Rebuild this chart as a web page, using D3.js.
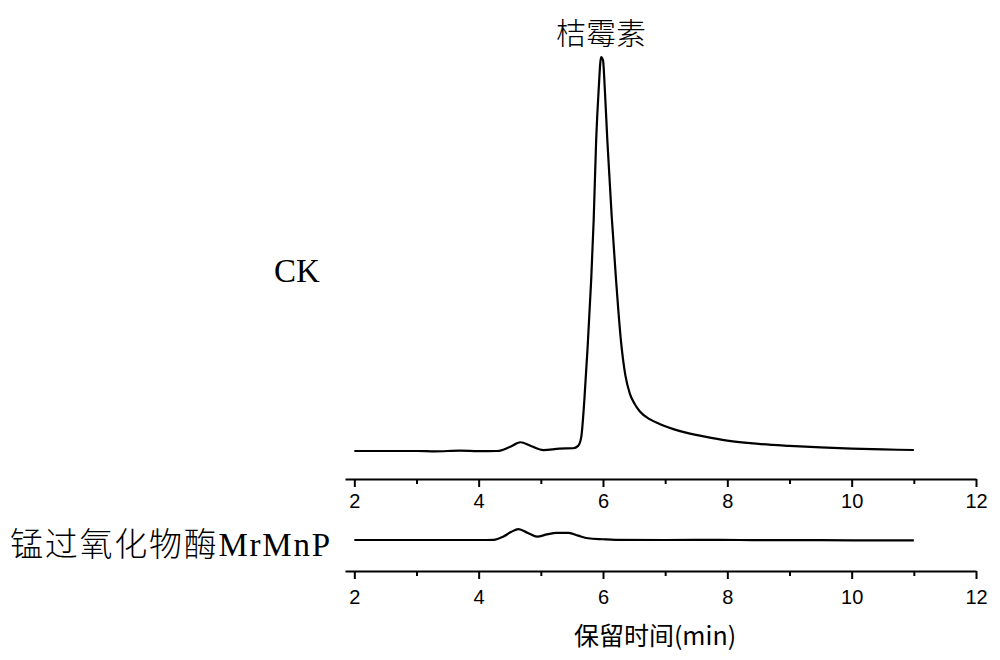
<!DOCTYPE html>
<html>
<head>
<meta charset="utf-8">
<script src="https://cdn.jsdelivr.net/npm/d3@7/dist/d3.min.js"></script>
<style>
  html, body { margin: 0; padding: 0; background: #fff; }
  svg { display: block; }
</style>
</head>
<body>
<div id="chart"></div>
<script>
// ---- data ----
const ckTime   = [2.0, 2.5, 3.0, 3.3, 3.7, 4.0, 4.3, 4.5, 4.67, 4.85, 5.04, 5.3, 5.52, 5.6, 5.65, 5.70, 5.75, 5.81, 5.85, 5.89, 5.93, 5.97, 6.00, 6.03, 6.07, 6.14, 6.21, 6.29, 6.36, 6.43, 6.51, 6.59, 6.75, 6.91, 7.24, 7.64, 8.0, 8.5, 9.0, 9.5, 10.0, 10.5, 11.0];
const ckSignal = [1.0, 1.0, 1.0, 0.9, 1.1, 0.95, 1.0, 2.0, 3.2, 2.2, 1.25, 1.6, 1.7, 2.3, 4.5, 13.8, 26.4, 44, 59, 79, 91.7, 100, 99.2, 91.7, 79, 60, 44, 28.5, 20.0, 15.5, 12.8, 11.0, 9.0, 7.8, 6.0, 4.6, 3.6, 2.8, 2.3, 1.9, 1.6, 1.4, 1.25];

const mnpTime   = [2.0, 3.0, 4.0, 4.24, 4.4, 4.52, 4.64, 4.8, 4.94, 5.1, 5.25, 5.45, 5.6, 5.76, 6.0, 6.2, 7.0, 7.9, 8.5, 9.5, 10.5, 11.0];
const mnpSignal = [1.0, 1.0, 1.0, 1.05, 1.9, 3.0, 3.76, 2.7, 1.85, 2.4, 2.8, 2.8, 2.1, 1.45, 1.2, 1.05, 1.0, 1.05, 0.95, 0.95, 0.9, 0.9];

const majorTicks = [2, 4, 6, 8, 10, 12];
const minorTicks = [3, 5, 7, 9, 11];
const peakLabel = "桔霉素";
const ckLabel = "CK";
const mnpLabel = "锰过氧化物酶MrMnP";
const xTitle = "保留时间(min)";

// ---- layout ----
const W = 1000, H = 660;
const svg = d3.select("#chart").append("svg").attr("width", W).attr("height", H);

const x = d3.scaleLinear().domain([1.85, 12]).range([345, 976]);
const yUpper = d3.scaleLinear().domain([0, 100]).range([455, 57]);
const yLower = d3.scaleLinear().domain([0, 100]).range([544, 146]);

const axisYUpper = 479;
const axisYLower = 571;

function drawAxis(yPos, pad) {
  const g = svg.append("g").attr("transform", `translate(0,${yPos})`);
  const major = d3.axisBottom(x).tickValues(majorTicks).tickSize(8).tickSizeOuter(0).tickPadding(pad)
    .tickFormat(d3.format("d"));
  g.call(major);
  g.select(".domain").attr("stroke", "#000").attr("stroke-width", 2);
  g.selectAll(".tick line").attr("stroke", "#000").attr("stroke-width", 2);
  g.selectAll(".tick text").attr("font-family", "'Liberation Sans', Arial, sans-serif")
    .attr("font-size", 20).attr("fill", "#000");
  const gm = svg.append("g").attr("transform", `translate(0,${yPos})`);
  gm.call(d3.axisBottom(x).tickValues(minorTicks).tickSize(5).tickSizeOuter(0).tickFormat(""));
  gm.select(".domain").remove();
  gm.selectAll(".tick line").attr("stroke", "#000").attr("stroke-width", 2);
}
drawAxis(axisYUpper, 7);
drawAxis(axisYLower, 11);

const ckData = ckTime.map((t, i) => [t, ckSignal[i]]);
const mnpData = mnpTime.map((t, i) => [t, mnpSignal[i]]);

const lineUpper = d3.line().x(d => x(d[0])).y(d => yUpper(d[1])).curve(d3.curveMonotoneX);
const lineLower = d3.line().x(d => x(d[0])).y(d => yLower(d[1])).curve(d3.curveMonotoneX);

svg.append("path").datum(ckData).attr("d", lineUpper)
  .attr("fill", "none").attr("stroke", "#000").attr("stroke-width", 2.2).attr("stroke-linejoin", "round");
svg.append("path").datum(mnpData).attr("d", lineLower)
  .attr("fill", "none").attr("stroke", "#000").attr("stroke-width", 2.2).attr("stroke-linejoin", "round");

// ---- labels ----
svg.append("text").attr("x", 601).attr("y", 44).attr("text-anchor", "middle")
  .attr("font-family", "'Noto Sans CJK SC', sans-serif").attr("font-size", 30).attr("font-weight", 300)
  .attr("fill", "#000").text(peakLabel);

svg.append("text").attr("x", 274).attr("y", 282)
  .attr("font-family", "'Liberation Serif', 'Times New Roman', serif").attr("font-size", 33)
  .attr("fill", "#000").text(ckLabel);

svg.append("text").attr("x", 10).attr("y", 556)
  .attr("font-family", "'Liberation Serif', 'Noto Sans CJK SC', serif").attr("font-size", 33)
  .attr("textLength", 320).attr("lengthAdjust", "spacing")
  .attr("font-weight", 300).attr("fill", "#000").text(mnpLabel);

svg.append("text").attr("x", 655).attr("y", 645).attr("text-anchor", "middle")
  .attr("font-family", "'Noto Sans CJK SC', sans-serif").attr("font-size", 25)
  .attr("fill", "#000").text(xTitle);
</script>
</body>
</html>
